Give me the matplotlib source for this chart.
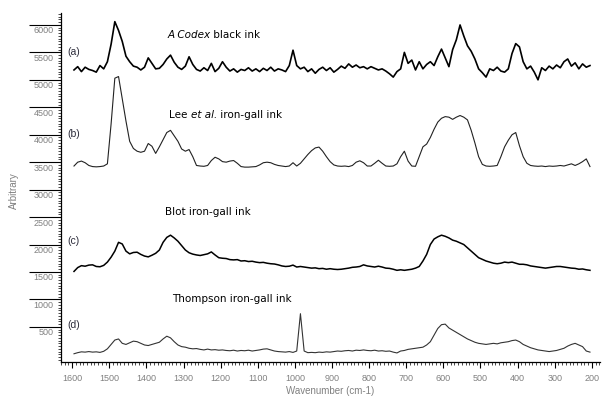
import matplotlib
matplotlib.use("Agg")
import matplotlib.pyplot as plt
import matplotlib.transforms as mtransforms
from matplotlib.ticker import MultipleLocator
import numpy as np

# wavenumber grid (cm-1), 1595 ... 205
wavenumber = np.arange(1595, 200, -10)

# (a) A Codex black ink
codex_black = [
    5180, 5240, 5150, 5230, 5190, 5170, 5140, 5260, 5200, 5330,
    5650, 6060, 5900, 5700, 5430, 5330, 5250, 5230, 5180, 5230,
    5400, 5300, 5200, 5210, 5280, 5380, 5450, 5320, 5230, 5190,
    5250, 5420, 5280, 5190, 5160, 5220, 5170, 5300, 5150, 5210,
    5330, 5230, 5160, 5200, 5140, 5190, 5170, 5220, 5160, 5200,
    5150, 5210, 5170, 5230, 5160, 5200, 5180, 5150, 5260, 5540,
    5260, 5200, 5230, 5150, 5200, 5120, 5190, 5230, 5170, 5220,
    5140, 5190, 5250, 5210, 5290, 5230, 5270, 5220, 5240, 5200,
    5240, 5210, 5180, 5200, 5160, 5110, 5050, 5150, 5200, 5500,
    5300, 5360, 5180, 5330, 5200, 5280, 5330, 5260, 5420, 5560,
    5400, 5240, 5550, 5730, 6000, 5800, 5620, 5520, 5380, 5200,
    5130, 5050, 5200, 5170, 5230, 5160, 5140, 5200, 5480, 5660,
    5600, 5330, 5200, 5250, 5140, 5000, 5220, 5170, 5250, 5200,
    5270, 5220, 5330, 5380, 5250, 5310, 5200, 5290, 5230, 5260,
]

# (b) Lee et al. iron-gall ink
lee_irongall = [
    3430, 3500, 3520, 3490, 3440, 3420, 3415, 3420, 3430, 3470,
    4200, 5030, 5060, 4650, 4250, 3880, 3750, 3700, 3680, 3700,
    3840, 3790, 3660, 3780, 3910, 4040, 4080, 3980, 3880, 3740,
    3700, 3730, 3600, 3440, 3430, 3425, 3440, 3530, 3590, 3560,
    3510, 3500, 3520, 3530, 3480, 3420, 3410, 3410, 3415, 3420,
    3450, 3490, 3500, 3490, 3460, 3440, 3430, 3420, 3430, 3490,
    3430, 3480, 3560, 3640, 3710, 3760, 3775, 3700, 3600, 3510,
    3450, 3430, 3425, 3430, 3420, 3440, 3500, 3525, 3490, 3430,
    3430, 3480, 3535, 3480, 3430, 3425, 3430, 3470, 3600, 3700,
    3520, 3430, 3425, 3600, 3780, 3830, 3950, 4100, 4230, 4300,
    4330, 4320, 4280, 4320, 4350, 4320, 4270, 4080, 3850, 3600,
    3460, 3430, 3425, 3430, 3440, 3600, 3780, 3900, 4000, 4040,
    3800, 3600, 3480, 3440, 3430, 3425, 3430, 3420, 3430, 3425,
    3430, 3440, 3430, 3450, 3470, 3440, 3470, 3510, 3560, 3420,
]

# (c) Blot iron-gall ink
blot_irongall = [
    1510, 1580, 1615, 1605, 1625, 1630, 1600, 1595, 1620, 1680,
    1770, 1880, 2040, 2010, 1880, 1830, 1855, 1860, 1820, 1790,
    1775, 1805, 1840, 1900, 2040, 2130, 2170, 2120, 2060, 1980,
    1900, 1850, 1825, 1810, 1800, 1815, 1830, 1865, 1810, 1760,
    1750, 1745, 1725, 1720, 1725, 1700, 1705, 1690, 1695, 1680,
    1670, 1675, 1660, 1650, 1645, 1630, 1610, 1600, 1605, 1625,
    1590, 1600, 1590, 1580, 1570, 1575, 1560, 1565, 1550, 1560,
    1550, 1545, 1550, 1560, 1570, 1585, 1590, 1600, 1630, 1610,
    1600, 1590, 1605, 1590, 1570, 1565, 1550, 1530, 1540, 1530,
    1540, 1550, 1570, 1600, 1700, 1820, 2000, 2100, 2140, 2170,
    2150, 2120, 2080, 2060, 2030, 2000, 1940, 1880, 1820, 1760,
    1730, 1700, 1680, 1660, 1650, 1660, 1680, 1670, 1680, 1660,
    1640, 1640, 1630, 1610, 1600, 1590, 1580, 1570, 1580, 1590,
    1600, 1600, 1590, 1580, 1570, 1565, 1550, 1555, 1540, 1530,
]

# (d) Thompson iron-gall ink
thompson_irongall = [
    10, 30, 45, 40, 50, 40, 45, 35, 55, 100,
    180, 260, 280, 200, 180, 210, 240, 230, 200, 170,
    160, 180, 200, 220, 280, 330, 300, 230, 170, 140,
    130, 110, 100, 105, 90, 80, 95, 80, 85, 75,
    80, 70, 65, 75, 60, 70, 65, 75, 60, 70,
    80, 95, 100, 80, 60, 50, 45, 40, 50, 35,
    60, 740, 60, 30, 35, 30, 40, 35, 45, 40,
    50, 60, 55, 65, 70, 60, 75, 70, 80, 70,
    65, 75, 60, 65, 55, 60, 40, 25, 60, 70,
    90, 100, 110, 120, 130, 170, 230, 350, 470, 540,
    550, 480, 440, 400, 360, 320, 280, 250, 220, 200,
    190, 180, 190, 200, 190, 210, 220, 230, 250, 260,
    230, 180, 150, 120, 100, 80, 70, 60, 50, 60,
    70, 90, 110, 150, 180, 200, 170, 140, 60, 40,
]

panel_tags = ["(a)", "(b)", "(c)", "(d)"]
tag_y = [5510, 4010, 2070, 525]

gray = "#808080"
plt.rcParams["font.family"] = ["Liberation Sans", "DejaVu Sans"]

fig = plt.figure(figsize=(6.04, 3.98), dpi=100)
ax = fig.add_axes([61 / 604, 1 - 362 / 398, 539 / 604, (362 - 12.7) / 398])

ax.plot(wavenumber, codex_black, color="black", lw=1.2)
ax.plot(wavenumber, lee_irongall, color="#222222", lw=0.8)
ax.plot(wavenumber, blot_irongall, color="black", lw=1.1)
ax.plot(wavenumber, thompson_irongall, color="#333333", lw=0.8)

ax.set_xlim(1630, 178)
ax.set_ylim(-140, 6223)

for side in ["top", "right"]:
    ax.spines[side].set_visible(False)
for side in ["left", "bottom"]:
    ax.spines[side].set_linewidth(0.9)

ax.set_xticks(range(200, 1601, 100))
ax.xaxis.set_minor_locator(MultipleLocator(10))
ax.set_yticks(range(500, 6001, 500))
ax.yaxis.set_minor_locator(MultipleLocator(50))

ax.tick_params(axis="x", which="major", length=4, width=0.8, pad=4.5,
               labelsize=6.5, labelcolor=gray)
ax.tick_params(axis="x", which="minor", length=2, width=0.5)
ax.tick_params(axis="y", which="major", length=23, width=0.8, pad=-17.5,
               labelsize=6.5, labelcolor=gray)
ax.tick_params(axis="y", which="minor", length=2.5, width=0.5)

# the y labels sit just under their tick lines
shift = mtransforms.ScaledTranslation(0, -0.05, fig.dpi_scale_trans)
for lab in ax.get_yticklabels():
    lab.set_transform(lab.get_transform() + shift)

ax.set_xlabel("Wavenumber (cm-1)", fontsize=7, color=gray, labelpad=2)
ax.set_ylabel("Arbitrary", fontsize=7, color=gray)
ax.yaxis.set_label_coords(-0.078, 0.49)

for tag, ty in zip(panel_tags, tag_y):
    ax.text(1612, ty, tag, fontsize=7.5, color="#2b2b3a", ha="left", va="center")


def rich_title(x, y, parts):
    prev = ax.text(x, y, parts[0][0], style=parts[0][1], fontsize=7.5,
                   family="DejaVu Sans", ha="left", va="bottom")
    for s, st in parts[1:]:
        prev = ax.annotate(s, xy=(1, 0), xycoords=prev, style=st, fontsize=7.5,
                           family="DejaVu Sans", ha="left", va="bottom")


rich_title(1344, 5730, [("A Codex", "italic"), (" black ink", "normal")])
rich_title(1338, 4260, [("Lee ", "normal"), ("et al.", "italic"), (" iron-gall ink", "normal")])
rich_title(1350, 2510, [("Blot iron-gall ink", "normal")])
rich_title(1330, 910, [("Thompson iron-gall ink", "normal")])

fig.savefig("out.png", dpi=100)
